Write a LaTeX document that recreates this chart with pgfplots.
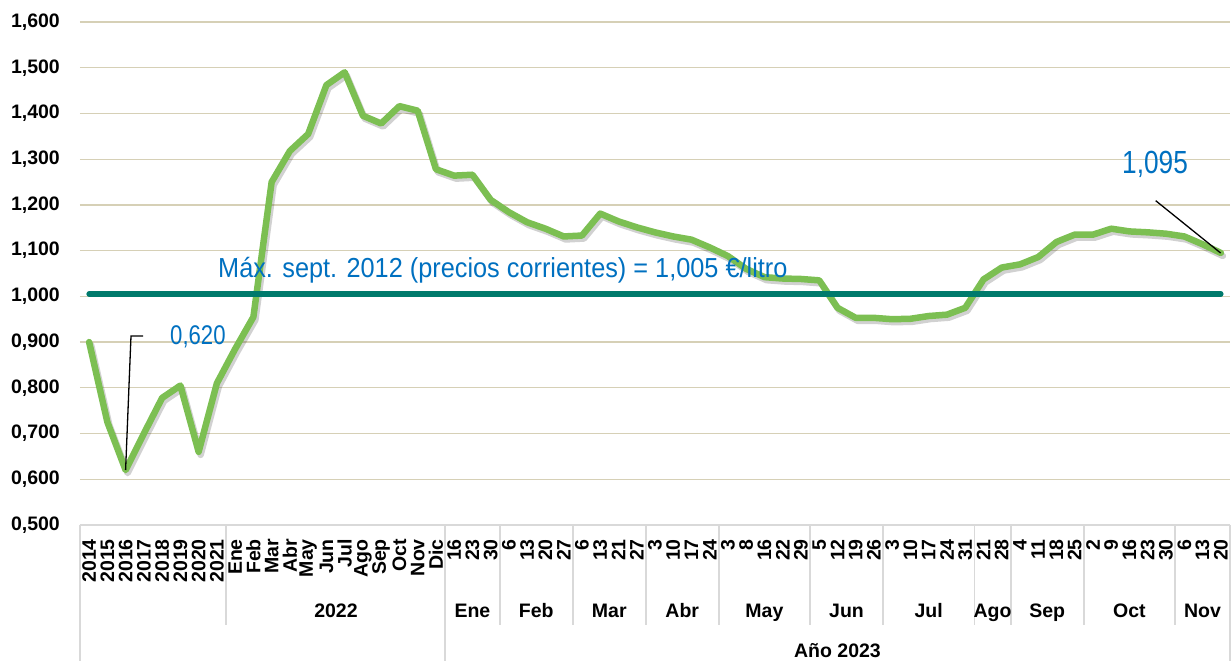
\documentclass[border=0pt]{standalone}
\usepackage{pgfplots}
\pgfplotsset{compat=1.18}
\usepackage{pgfplotstable}
\usepackage{fontspec}
\setmainfont{Liberation Sans}
\newfontfamily\cond[FakeStretch=0.82]{Liberation Sans}
\newfontfamily\condb[FakeStretch=0.92]{Liberation Sans}
\definecolor{lgreen}{HTML}{7CBF52}
\definecolor{teal2}{HTML}{007A6C}
\definecolor{lblue}{HTML}{0070C0}
\definecolor{gridc}{HTML}{D6D0B6}
\definecolor{sepc}{HTML}{D9D9D9}

\pgfplotstableread{
x y
0 0.900
1 0.725
2 0.620
3 0.700
4 0.778
5 0.805
6 0.660
7 0.810
8 0.885
9 0.955
10 1.250
11 1.318
12 1.355
13 1.462
14 1.490
15 1.395
16 1.378
17 1.416
18 1.406
19 1.278
20 1.264
21 1.266
22 1.211
23 1.184
24 1.162
25 1.148
26 1.131
27 1.133
28 1.181
29 1.164
30 1.151
31 1.140
32 1.131
33 1.124
34 1.107
35 1.088
36 1.060
37 1.042
38 1.039
39 1.038
40 1.035
41 0.975
42 0.953
43 0.953
44 0.950
45 0.951
46 0.957
47 0.960
48 0.975
49 1.037
50 1.063
51 1.070
52 1.086
53 1.119
54 1.135
55 1.135
56 1.148
57 1.142
58 1.140
59 1.137
60 1.131
61 1.114
62 1.095
}\datatable

\begin{document}
\begin{tikzpicture}
\useasboundingbox (0pt,0pt) rectangle (1231pt,661pt);
\begin{scope}[x=1pt,y=1pt]
\foreach \xx in {226.0,499.8,572.9,645.9,718.9,810.2,883.2,974.4,1010.9,1084.0,1175.2}
  \draw[sepc, line width=1.5pt] (\xx,136) -- (\xx,36);
\foreach \xx in {80,445.1,1230}
  \draw[sepc, line width=1.5pt] (\xx,136) -- (\xx,0);
\end{scope}
\begin{axis}[
  at={(80pt,136pt)}, anchor=south west, scale only axis,
  width=1150pt, height=503pt,
  xmin=-0.5, xmax=62.5, ymin=0.5, ymax=1.6,
  ytick={0.5,0.6,0.7,0.8,0.9,1.0,1.1,1.2,1.3,1.4,1.5,1.6},
  yticklabels={{0,500},{0,600},{0,700},{0,800},{0,900},{1,000},{1,100},{1,200},{1,300},{1,400},{1,500},{1,600}},
  xtick={0,...,62},
  xticklabels={2014,2015,2016,2017,2018,2019,2020,2021,Ene,Feb,Mar,Abr,May,Jun,Jul,Ago,Sep,Oct,Nov,Dic,16,23,30,6,13,20,27,6,13,21,27,3,10,17,24,3,8,16,22,29,5,12,19,26,3,10,17,24,31,21,28,4,11,18,25,2,9,16,23,30,6,13,20},
  major tick length=0pt,
  axis line style={draw=none},
  ymajorgrids, grid style={gridc, line width=1.2pt},
  tick label style={font=\fontsize{19.5}{19.5}\selectfont\bfseries},
  xticklabel style={rotate=90, anchor=east, inner sep=0pt},
  yticklabel style={anchor=east, inner sep=0pt},
  xticklabel shift=14pt, yticklabel shift=20pt,
  clip=false,
]
\addplot[black, opacity=0.18, line width=6.5pt, line join=round, line cap=round, shift={(2pt,-3pt)}] table[x=x,y=y]{\datatable};
\addplot[lgreen, line width=6.5pt, line join=round, line cap=round] table[x=x,y=y]{\datatable};
\addplot[teal2, line width=5.5pt, line cap=round] coordinates {(0,1.005) (62,1.005)};
\end{axis}
\begin{scope}[x=1pt,y=1pt]
\draw[sepc, line width=1.5pt] (80,136) -- (1230,136);
\draw[black, line width=1.3pt] (125.6,191) -- (131,325) -- (143,325);
\draw[black, line width=1.3pt] (1220.6,408) -- (1155.7,460.3);
\node[anchor=base west, inner sep=0pt, text=lblue, font=\condb\fontsize{27.5}{27.5}\selectfont] at (218,383) {Máx. sept. 2012 (precios corrientes) = 1,005 €/litro};
\node[anchor=base west, inner sep=0pt, text=lblue, font=\cond\fontsize{27}{27}\selectfont] at (170,316) {0,620};
\node[anchor=base west, inner sep=0pt, text=lblue, font=\cond\fontsize{32}{32}\selectfont] at (1122,487) {1,095};
\begin{scope}[every node/.style={font=\fontsize{19.5}{19.5}\selectfont\bfseries, inner sep=0pt, anchor=base}]
\node at (336,43) {2022};
\node at (472.4,43) {Ene};
\node at (536.25,43) {Feb};
\node at (609.25,43) {Mar};
\node at (682.25,43) {Abr};
\node at (764.4,43) {May};
\node at (846.5,43) {Jun};
\node at (928.6,43) {Jul};
\node at (992.5,43) {Ago};
\node at (1047.25,43) {Sep};
\node at (1129.4,43) {Oct};
\node at (1202.5,43) {Nov};
\node at (837.5,3.5) {Año 2023};
\end{scope}
\end{scope}
\end{tikzpicture}
\end{document}
